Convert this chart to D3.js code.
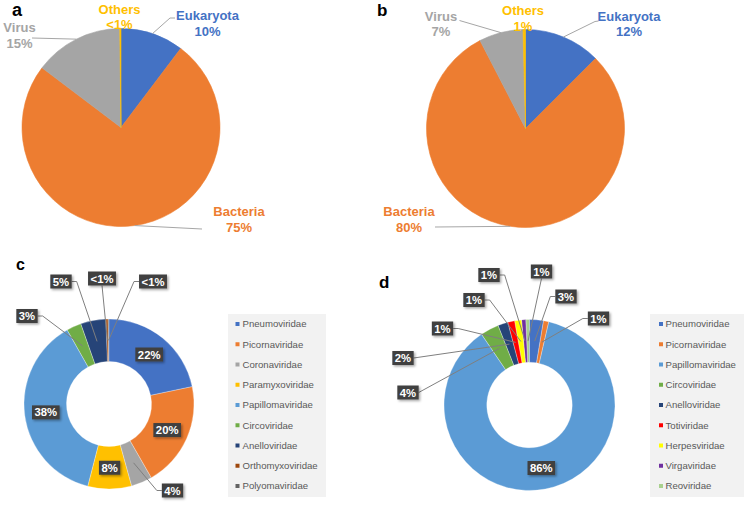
<!DOCTYPE html>
<html>
<head>
<meta charset="utf-8">
<script src="https://cdn.jsdelivr.net/npm/d3@7"></script>
<style>
  html, body { margin: 0; padding: 0; background: #fff; }
  svg { display: block; }
  text { font-family: "Liberation Sans", Arial, sans-serif; }
</style>
</head>
<body>
<svg id="chart" width="750" height="507"></svg>
<script>
// ---------------- DATA ----------------
const pieCategories = ["Eukaryota", "Bacteria", "Virus", "Others"];
const pieColors = ["#4472C4", "#ED7D31", "#A5A5A5", "#FFC000"];
const pieAValues = [10.3, 75.0, 14.5, 0.2];
const pieALabels = ["10%", "75%", "15%", "<1%"];
const pieBValues = [12.5, 79.9, 7.2, 0.4];
const pieBLabels = ["12%", "80%", "7%", "1%"];

const donutCCategories = ["Pneumoviridae", "Picornaviridae", "Coronaviridae", "Paramyxoviridae",
  "Papillomaviridae", "Circoviridae", "Anelloviridae", "Orthomyxoviridae", "Polyomaviridae"];
const donutCColors = ["#4472C4", "#ED7D31", "#A5A5A5", "#FFC000", "#5B9BD5", "#70AD47", "#264478", "#9E480E", "#636363"];
const donutCValues = [21.7, 20.0, 4.0, 8.3, 37.8, 2.8, 4.8, 0.4, 0.2];
const donutCLabels = ["22%", "20%", "4%", "8%", "38%", "3%", "5%", "<1%", "<1%"];

const donutDCategories = ["Pneumoviridae", "Picornaviridae", "Papillomaviridae", "Circoviridae",
  "Anelloviridae", "Totiviridae", "Herpesviridae", "Virgaviridae", "Reoviridae"];
const donutDColors = ["#4472C4", "#ED7D31", "#5B9BD5", "#70AD47", "#264478", "#FF0000", "#FFFF00", "#7030A0", "#A9D18E"];
const donutDValues = [2.6, 1.0, 86.9, 3.5, 1.9, 1.3, 1.3, 0.8, 0.7];
const donutDLabels = ["3%", "1%", "86%", "4%", "2%", "1%", "1%", "1%", "1%"];

// ---------------- LAYOUT ----------------
const pieALayout = { cx: 121, cy: 127.5, r: 99,
  labels: [
    { i: 0, x: 207.5, y: 20, leader: [[170, 18], [175, 18]] },
    { i: 1, x: 239, y: 216, leader: [[202, 229]] },
    { i: 2, x: 19.5, y: 32, leader: [[32, 38]] },
    { i: 3, x: 119.5, y: 13.5, leader: null }
  ] };
const pieBLayout = { cx: 525.5, cy: 128.5, r: 99,
  labels: [
    { i: 0, x: 629, y: 20.5, leader: [[595, 21.5], [598.5, 21]] },
    { i: 1, x: 409, y: 216, leader: [[435, 227]] },
    { i: 2, x: 441, y: 20.5, leader: [[459.5, 20.5]] },
    { i: 3, x: 523, y: 15, leader: null }
  ] };
const donutCLayout = { cx: 109, cy: 404, r: 85, r0: 42.5,
  labels: [
    { i: 0, side: "c" }, { i: 1, side: "c" }, { i: 3, side: "c" }, { i: 4, side: "c" },
    { i: 2, x: 172.5, y: 490.5, side: "l" },
    { i: 5, x: 27, y: 316, side: "r" },
    { i: 6, x: 61, y: 281.5, side: "r" },
    { i: 7, x: 102, y: 278.5, side: "b" },
    { i: 8, x: 153, y: 281.5, side: "l" }
  ] };
const donutDLayout = { cx: 529.5, cy: 405, r: 85.5, r0: 42.7,
  labels: [
    { i: 2, side: "c" },
    { i: 0, x: 566, y: 296.5, side: "l" },
    { i: 1, x: 598.5, y: 318.5, side: "l" },
    { i: 3, x: 408, y: 392.5, side: "rd" },
    { i: 4, x: 403, y: 358, side: "rd" },
    { i: 5, x: 442.5, y: 328.5, side: "r" },
    { i: 6, x: 474, y: 300, side: "r" },
    { i: 7, x: 489, y: 275, side: "r" },
    { i: 8, x: 541.5, y: 271.5, side: "b" }
  ] };

// ---------------- DRAW ----------------
const svg = d3.select("#chart");
const defs = svg.append("defs");
const f = defs.append("filter").attr("id", "shadow").attr("x", "-30%").attr("y", "-30%").attr("width", "170%").attr("height", "170%");
f.append("feDropShadow").attr("dx", 1.5).attr("dy", 1.5).attr("stdDeviation", 1).attr("flood-color", "#000").attr("flood-opacity", 0.35);

const pieGen = d3.pie().sort(null).value(d => d);

function panelLetter(t, x, y, size) {
  svg.append("text").attr("x", x).attr("y", y).text(t)
    .attr("font-size", size).attr("font-weight", "bold").attr("fill", "#000");
}

function drawPie(values, labels, layout) {
  const g = svg.append("g");
  const arcs = pieGen(values);
  const arc = d3.arc().innerRadius(0).outerRadius(layout.r);
  g.selectAll("path.slice").data(arcs).join("path")
    .attr("class", "slice")
    .attr("transform", `translate(${layout.cx},${layout.cy})`)
    .attr("d", arc)
    .attr("fill", (d, i) => pieColors[i])
    .attr("stroke", (d, i) => pieColors[i]).attr("stroke-width", 0.6);

  layout.labels.forEach(L => {
    const a = arcs[L.i];
    const mid = (a.startAngle + a.endAngle) / 2;
    if (L.leader) {
      const p0 = [layout.cx + layout.r * Math.sin(mid), layout.cy - layout.r * Math.cos(mid)];
      g.append("path")
        .attr("d", d3.line()([p0, ...L.leader]))
        .attr("fill", "none").attr("stroke", "#A6A6A6").attr("stroke-width", 1);
    }
    const t = g.append("text").attr("text-anchor", "middle")
      .attr("font-size", 13).attr("font-weight", "bold").attr("fill", pieColors[L.i]);
    t.append("tspan").attr("x", L.x).attr("y", L.y).text(pieCategories[L.i]);
    t.append("tspan").attr("x", L.x).attr("y", L.y + 15.5).text(labels[L.i]);
  });
}

function drawDonut(values, labels, colors, layout) {
  const g = svg.append("g");
  const arcs = pieGen(values);
  const arc = d3.arc().innerRadius(layout.r0).outerRadius(layout.r);
  g.selectAll("path.slice").data(arcs).join("path")
    .attr("class", "slice")
    .attr("transform", `translate(${layout.cx},${layout.cy})`)
    .attr("d", arc)
    .attr("fill", (d, i) => colors[i])
    .attr("stroke", "#fff").attr("stroke-width", 0.3);

  const fs = 11.3, h = 14;
  layout.labels.forEach(L => {
    const c = arc.centroid(arcs[L.i]);
    const cp = [layout.cx + c[0], layout.cy + c[1]];
    const x = L.side === "c" ? cp[0] : L.x;
    const y = L.side === "c" ? cp[1] : L.y;
    const lbl = g.append("g");
    const txt = lbl.append("text").attr("x", x).attr("y", y + fs * 0.36)
      .attr("text-anchor", "middle").attr("font-size", fs).attr("font-weight", "bold")
      .attr("fill", "#fff").text(labels[L.i]);
    const w = txt.node().getComputedTextLength() + 5;
    if (L.side !== "c") {
      let pts;
      if (L.side === "l") pts = [[x - w / 2, y], [x - w / 2 - 5, y], cp];
      else if (L.side === "r") pts = [[x + w / 2, y], [x + w / 2 + 5, y], cp];
      else if (L.side === "rd") pts = [[x + w / 2, y], cp];
      else pts = [[x, y + h / 2], cp];
      g.insert("path", ":first-child")
        .attr("d", d3.line()(pts)).attr("fill", "none")
        .attr("stroke", "#7F7F7F").attr("stroke-width", 1);
    }
    lbl.insert("rect", "text").attr("x", x - w / 2).attr("y", y - h / 2)
      .attr("width", w).attr("height", h).attr("fill", "#404040")
      .attr("filter", "url(#shadow)");
  });
  g.selectAll("path.slice").lower();
}

function drawLegend(cats, colors, x0, y0, w, hgt, mx, tx) {
  const g = svg.append("g");
  g.append("rect").attr("x", x0).attr("y", y0).attr("width", w).attr("height", hgt).attr("fill", "#F2F2F2");
  const y = d3.scalePoint().domain(cats).range([324, 486]);
  cats.forEach((c, i) => {
    g.append("rect").attr("x", mx).attr("y", y(c) - 2).attr("width", 4).attr("height", 4).attr("fill", colors[i]);
    g.append("text").attr("x", tx).attr("y", y(c) + 3.4).attr("font-size", 9.6)
      .attr("fill", "#595959").text(c);
  });
}

drawPie(pieAValues, pieALabels, pieALayout);
drawPie(pieBValues, pieBLabels, pieBLayout);
drawDonut(donutCValues, donutCLabels, donutCColors, donutCLayout);
drawDonut(donutDValues, donutDLabels, donutDColors, donutDLayout);
drawLegend(donutCCategories, donutCColors, 228, 314, 98, 183, 235.5, 242.5);
drawLegend(donutDCategories, donutDColors, 650, 314, 94, 183, 659, 665.5);

panelLetter("a", 12, 16, 18);
panelLetter("b", 377, 16, 17);
panelLetter("c", 16, 270, 16);
panelLetter("d", 379, 288, 17);
</script>
</body>
</html>
